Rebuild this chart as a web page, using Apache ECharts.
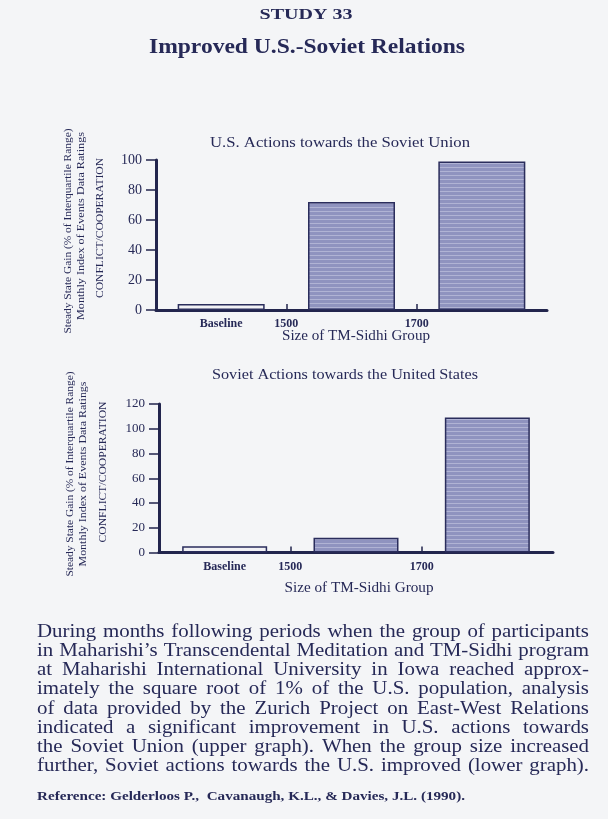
<!DOCTYPE html>
<html><head><meta charset="utf-8">
<script src="https://cdn.jsdelivr.net/npm/echarts@6/dist/echarts.min.js"></script>
<style>html,body{margin:0;padding:0;background:#f4f5f7}#c{width:608px;height:819px}</style>
</head><body><div id="c"></div><script>
// ---------- data ----------
const groups = ['Baseline', '1500–1700', 'Above 1700'];
const boundaryLabels = ['1500', '1700'];
const usValues = [4, 72, 99];
const sovietValues = [5, 12, 109];
const usYMax = 100;
const sovietYMax = 120;
const yStep = 20;

const pageKicker = 'STUDY 33';
const pageTitle = 'Improved U.S.-Soviet Relations';
const chartTitles = ['U.S. Actions towards the Soviet Union', 'Soviet Actions towards the United States'];
const xAxisName = 'Size of TM-Sidhi Group';
const yNameLines = ['Steady State Gain (% of Interquartile Range)', 'Monthly Index of Events Data Ratings', 'CONFLICT/COOPERATION'];
const paragraphLines = [
  'During months following periods when the group of participants',
  'in Maharishi\u2019s Transcendental Meditation and TM-Sidhi program',
  'at Maharishi International University in Iowa reached approx-',
  'imately the square root of 1% of the U.S. population, analysis',
  'of data provided by the Zurich Project on East-West Relations',
  'indicated a significant improvement in U.S. actions towards',
  'the Soviet Union (upper graph). When the group size increased',
  'further, Soviet actions towards the U.S. improved (lower graph).'
];
const referenceText = 'Reference: Gelderloos P.,  Cavanaugh, K.L., & Davies, J.L. (1990).';

// ---------- styling helpers ----------
const NAVY = '#262957';
const AXIS = '#22254d';
const SERIF = "'Liberation Serif', 'DejaVu Serif', serif";
const mctx = document.createElement('canvas').getContext('2d');
function measure(t, size, weight) { mctx.font = (weight || 'normal') + ' ' + size + 'px ' + SERIF; return mctx.measureText(t).width; }
function fitText(t, x, y, size, weight, width, rotation, align) {
  const w = measure(t, size, weight);
  return { type: 'text', x: x, y: y, rotation: rotation || 0, scaleX: width ? width / w : 1, silent: true,
    style: { text: t, fontSize: size, fontFamily: SERIF, fontWeight: weight || 'normal', fill: NAVY,
      align: align || 'center', verticalAlign: 'middle' } };
}
function justified(line, y, left, right, size) {
  const target = right - left;
  const natural = measure(line, size);
  const s = Math.min(1.16, target / natural);
  const words = line.split(' ');
  const ws = words.map(w => measure(w, size) * s);
  const total = ws.reduce((a, b) => a + b, 0);
  const gap = (target - total) / (words.length - 1);
  let x = left; const out = [];
  words.forEach((w, i) => {
    out.push({ type: 'text', x: x, y: y, scaleX: s, silent: true,
      style: { text: w, fontSize: size, fontFamily: SERIF, fill: NAVY, align: 'left', verticalAlign: 'middle' } });
    x += ws[i] + gap;
  });
  return out;
}

const pc = document.createElement('canvas'); pc.width = 4; pc.height = 4;
const pg = pc.getContext('2d');
pg.fillStyle = '#8f93bf'; pg.fillRect(0, 0, 4, 4);
pg.fillStyle = '#b0b3d4'; pg.fillRect(0, 3, 4, 1);
const hatch = { image: pc, repeat: 'repeat' };

function barData(values) {
  return values.map((v, i) => i === 0 ? { value: v, itemStyle: { color: '#f1f1f5' } } : v);
}

const gridDefs = [
  { left: 156, width: 391, top: 160, height: 150 },
  { left: 159, width: 394, top: 404, height: 148.5 }
];
const labelFont = { color: NAVY, fontFamily: SERIF };

const xAxes = [], yAxes = [], series = [];
[usValues, sovietValues].forEach((vals, gi) => {
  xAxes.push({
    type: 'category', gridIndex: gi, data: groups, position: 'bottom',
    axisLine: { lineStyle: { color: AXIS, width: 3 } },
    axisTick: { show: false },
    axisLabel: Object.assign({ fontSize: 12, fontWeight: 'bold', margin: 8,
      formatter: (v, i) => i === 0 ? v : '' }, labelFont)
  });
  xAxes.push({
    type: 'value', gridIndex: gi, position: 'bottom', min: 0, max: groups.length, interval: 1,
    axisLine: { show: false }, splitLine: { show: false },
    axisTick: { show: true, inside: true, length: 6, customValues: [1, 2], lineStyle: { color: AXIS, width: 1.5 } },
    axisLabel: Object.assign({ fontSize: 12, fontWeight: 'bold', margin: 8, customValues: [1, 2],
      formatter: v => (v >= 1 && v <= boundaryLabels.length) ? boundaryLabels[v - 1] : '' }, labelFont)
  });
  yAxes.push({
    type: 'value', gridIndex: gi, min: 0, max: gi === 0 ? usYMax : sovietYMax, interval: yStep,
    axisLine: { show: true, lineStyle: { color: AXIS, width: 3 } },
    axisTick: { show: true, length: 10, lineStyle: { color: AXIS, width: 1.5 } },
    splitLine: { show: false },
    axisLabel: Object.assign({ fontSize: gi === 0 ? 14 : 13, margin: 14 }, labelFont)
  });
  series.push({
    type: 'bar', xAxisIndex: gi * 2, yAxisIndex: gi, data: barData(vals),
    barWidth: gi === 0 ? 87 : 85, silent: true,
    itemStyle: { color: hatch, borderColor: '#2a2d5c', borderWidth: 1.5 }
  });
});

const graphics = [
  fitText(pageKicker, 306, 15, 14, 'bold', 93),
  fitText(pageTitle, 307, 48, 21, 'bold', 316),
  fitText(chartTitles[0], 340, 143, 14.5, 'normal', 260),
  fitText(xAxisName, 356, 336, 14.5, 'normal', 148),
  fitText(chartTitles[1], 345, 375, 14.5, 'normal', 266),
  fitText(xAxisName, 359, 588, 14.5, 'normal', 149),
  // rotated y-axis names, upper chart
  fitText(yNameLines[0], 68, 231, 10.5, 'normal', 205, Math.PI / 2),
  fitText(yNameLines[1], 81, 226, 10.5, 'normal', 188, Math.PI / 2),
  fitText(yNameLines[2], 100, 228, 10.5, 'normal', 140, Math.PI / 2),
  // lower chart
  fitText(yNameLines[0], 70, 474, 10.5, 'normal', 205, Math.PI / 2),
  fitText(yNameLines[1], 83, 474, 10.5, 'normal', 185, Math.PI / 2),
  fitText(yNameLines[2], 103, 472, 10.5, 'normal', 141, Math.PI / 2),
  fitText(referenceText, 37, 797, 13, 'bold', 428, 0, 'left')
];
paragraphLines.forEach((ln, i) => {
  justified(ln, 632 + i * 19.2, 37, 589, 18).forEach(g => graphics.push(g));
});

const chart = echarts.init(document.getElementById('c'), null, { renderer: 'canvas' });
chart.setOption({
  backgroundColor: '#f4f5f7',
  animation: false,
  grid: gridDefs,
  xAxis: xAxes,
  yAxis: yAxes,
  series: series,
  graphic: graphics
});
</script></body></html>
